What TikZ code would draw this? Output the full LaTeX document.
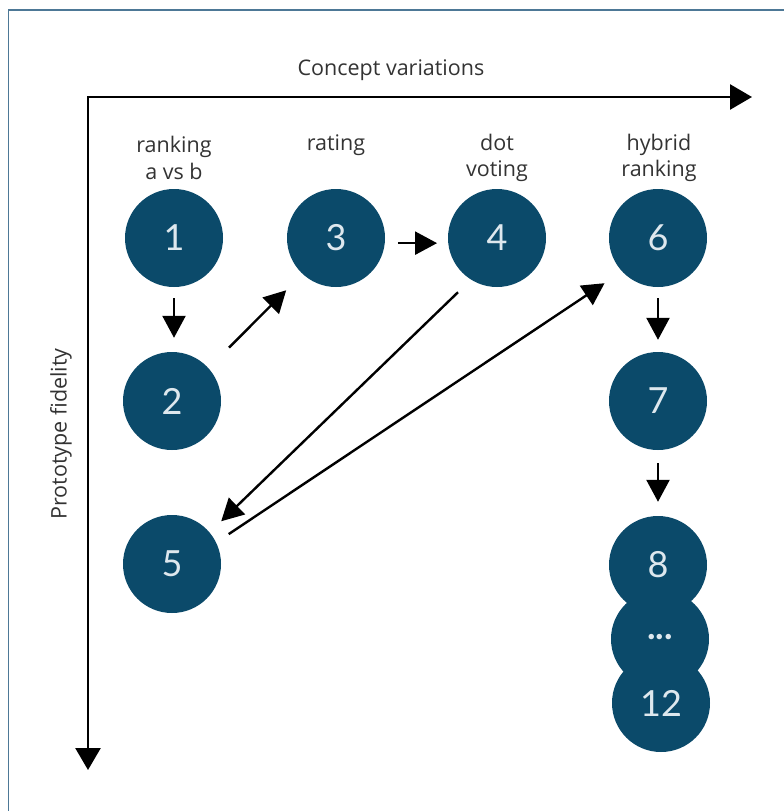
\documentclass[tikz,border=0pt]{standalone}
\usepackage{fontspec}
\setmainfont{Lato}
\newfontfamily\lblfont{Open Sans}
\usetikzlibrary{arrows.meta}
\definecolor{dotblue}{RGB}{11,74,106}
\definecolor{numtxt}{RGB}{222,232,238}
\definecolor{lbltxt}{RGB}{51,51,51}
\definecolor{framec}{RGB}{77,120,150}
\tikzset{
  bub/.style={circle, fill=dotblue, minimum size=98pt, inner sep=0pt,
    text=numtxt, font=\fontsize{36}{40}\selectfont},
  lbl/.style={text=lbltxt, font=\lblfont\fontsize{21.5}{26.5}\selectfont, align=center},
  arr/.style={line width=2.4pt, -{Triangle[length=22pt,width=23pt]}},
  axis/.style={line width=2.6pt, {Triangle[length=22pt,width=25pt]}-{Triangle[length=22pt,width=25pt]}},
}
\begin{document}
\begin{tikzpicture}[x=1pt,y=-1pt]
\useasboundingbox (0,0) rectangle (784,811);
\draw[framec, line width=1.2pt] (8.5,811) -- (8.5,10) -- (784,10);
% axes
\coordinate (o) at (88,97);
\coordinate (xe) at (752,97);
\coordinate (ye) at (88,770);
\draw[axis] (xe) -- (o) -- (ye);
\node[lbl] (xl) at (391,70) {Concept variations};
\node[lbl, rotate=90] (yl) at (61,434) {Prototype fidelity};
% column labels
\node[lbl] (l1) at (174,158) {ranking\\a vs b};
\node[lbl] (l3) at (336,145) {rating};
\node[lbl] (l4) at (497,158) {dot\\voting};
\node[lbl] (l6) at (659,158) {hybrid\\ranking};
% bubbles
\node[bub] (c1) at (174,238) {1};
\node[bub] (c3) at (336,238) {3};
\node[bub] (c4) at (497,238) {4};
\node[bub] (c6) at (658,238) {6};
\node[bub] (c2) at (172,401) {2};
\node[bub] (c7) at (658,401) {7};
\node[bub] (c5) at (172,564) {5};
\node[bub] (c8) at (658,565) {8};
\node[bub] (cd) at (660,639) {\raisebox{5pt}{\bfseries\fontsize{36}{36}\selectfont ...}};
\node[bub] (c12) at (661,703) {12};
% connectors
\draw[arr, shorten <=11pt, shorten >=14pt] (c1.south) -- (c1.south |- c2.north);
\draw[arr, shorten <=29pt, shorten >=23pt] (c2.42) -- (c3.227);
\draw[arr, shorten <=13pt, shorten >=11pt] (c3.-6) -- (c4.186);
\draw[arr, shorten <=18pt, shorten >=16pt] (c4.238) -- (c5.40);
\draw[arr, shorten <=15pt, shorten >=21pt] (c5.26) -- (c6.223);
\draw[arr, shorten <=11pt, shorten >=12pt] (c6.south) -- (c7.north);
\draw[arr, shorten <=13pt, shorten >=14pt] (c7.south) -- (c8.north);
\end{tikzpicture}
\end{document}
